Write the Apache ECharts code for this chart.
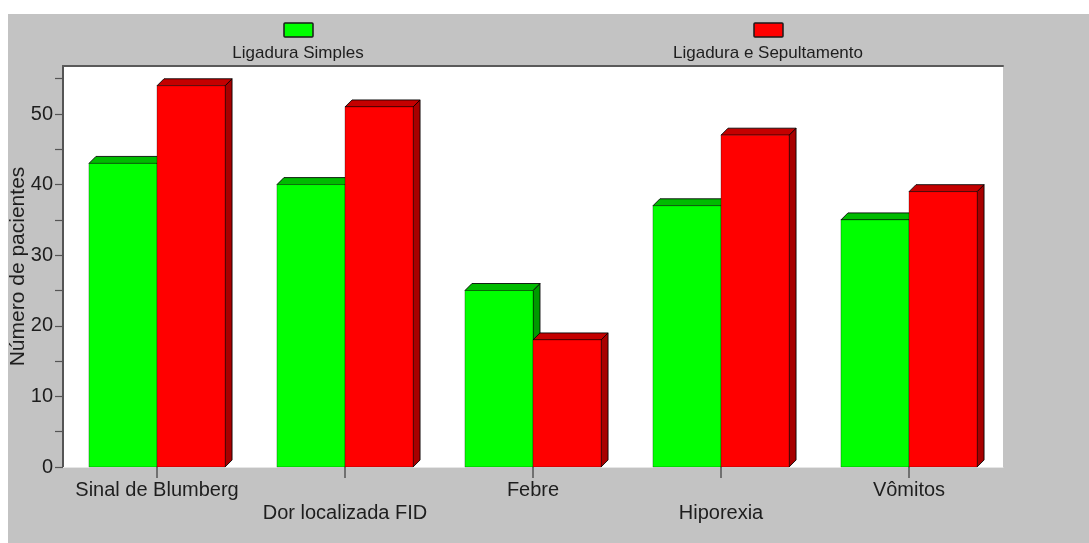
<!DOCTYPE html>
<html>
<head>
<meta charset="utf-8">
<script src="https://cdn.jsdelivr.net/npm/echarts@6/dist/echarts.min.js"></script>
<style>
  html, body { margin: 0; padding: 0; background: #ffffff; }
  #chart { width: 1089px; height: 543px; }
</style>
</head>
<body>
<div id="chart"></div>
<script>
// Symptoms compared between the two surgical techniques
const categories = ['Sinal de Blumberg', 'Dor localizada FID', 'Febre', 'Hiporexia', 'Vômitos'];
const seriesNames = ['Ligadura Simples', 'Ligadura e Sepultamento'];
const ligaduraSimples = [43, 40, 25, 37, 35];
const ligaduraSepultamento = [54, 51, 18, 47, 39];
const yTickLabels = [0, 10, 20, 30, 40, 50];
const yTickMarks = [0, 5, 10, 15, 20, 25, 30, 35, 40, 45, 50, 55];

const FONT = '"Liberation Sans", Arial, sans-serif';
const TEXT = '#1e1e1e';

// palette per series: front, top, side
const palettes = [
  { front: '#00ff00', top: '#00bb00', side: '#009a00' },
  { front: '#ff0000', top: '#c40000', side: '#a80000' }
];

const DEPTH = 7;            // extrusion of the pseudo-3D boxes (px)
const BAR_FRACTION = 0.362; // each bar's share of the category band

function makeRenderer(seriesIdx) {
  const pal = palettes[seriesIdx];
  return function (params, api) {
    const ci = api.value(0);
    const v = api.value(1);
    const top = api.coord([ci, v]);
    const base = api.coord([ci, 0]);
    const band = api.size([1, 0])[0];
    const w = band * BAR_FRACTION;
    const x0 = seriesIdx === 0 ? top[0] - w : top[0];
    const x1 = x0 + w;
    const yt = top[1];
    const yb = base[1];
    const d = DEPTH;
    const edge = 'rgba(0,0,0,0.85)';
    return {
      type: 'group',
      children: [
        {
          type: 'polygon',
          shape: { points: [[x1, yt], [x1 + d, yt - d], [x1 + d, yb - d], [x1, yb]] },
          style: { fill: pal.side, stroke: edge, lineWidth: 1 }
        },
        {
          type: 'polygon',
          shape: { points: [[x0, yt], [x0 + d, yt - d], [x1 + d, yt - d], [x1, yt]] },
          style: { fill: pal.top, stroke: edge, lineWidth: 1 }
        },
        {
          type: 'rect',
          shape: { x: x0, y: yt, width: w, height: yb - yt },
          style: { fill: pal.front, stroke: 'rgba(0,0,0,0.35)', lineWidth: 0.8 }
        }
      ]
    };
  };
}

function toData(values) {
  return values.map(function (v, i) { return [i, v]; });
}

const chart = echarts.init(document.getElementById('chart'), null, { renderer: 'canvas' });

const legendItems = [
  { name: seriesNames[0], color: palettes[0].front, cx: 298 },
  { name: seriesNames[1], color: palettes[1].front, cx: 768 }
];

const graphic = [
  {
    type: 'rect',
    left: 8, top: 14, z: -10,
    shape: { width: 1081, height: 529 },
    style: { fill: '#c3c3c3' }
  }
];
legendItems.forEach(function (it) {
  graphic.push({
    type: 'rect', z: 10,
    shape: { x: it.cx - 14, y: 23, width: 29, height: 14, r: 1 },
    style: { fill: it.color, stroke: '#1a1a1a', lineWidth: 1.5 }
  });
  graphic.push({
    type: 'text', z: 10,
    x: it.cx, y: 53,
    style: {
      text: it.name, fill: TEXT, font: '17px ' + FONT,
      align: 'center', verticalAlign: 'middle'
    }
  });
});

chart.setOption({
  backgroundColor: '#ffffff',
  animation: false,
  graphic: graphic,
  grid: {
    left: 63, right: 86, top: 66, bottom: 76,
    containLabel: false,
    outerBoundsMode: 'none',
    show: true, backgroundColor: '#ffffff', borderWidth: 0
  },
  xAxis: [
    {
      type: 'category',
      data: categories,
      axisLine: { show: true, lineStyle: { color: '#e6e6e6', width: 1 } },
      axisTick: { show: true, alignWithLabel: true, length: 11, lineStyle: { color: '#555', width: 1.5 } },
      axisLabel: {
        interval: 0,
        margin: 12,
        color: TEXT,
        fontFamily: FONT,
        fontSize: 20,
        lineHeight: 23,
        formatter: function (val, idx) { return idx % 2 === 1 ? '\n' + val : val; }
      },
      splitLine: { show: false }
    },
    {
      type: 'category',
      position: 'top',
      data: categories,
      axisLine: { show: true, lineStyle: { color: '#5a5a5a', width: 2 } },
      axisTick: { show: false },
      axisLabel: { show: false }
    }
  ],
  yAxis: {
    type: 'value',
    min: 0,
    max: 56.8,
    interval: 10,
    name: 'Número de pacientes',
    nameLocation: 'middle',
    nameGap: 34,
    nameMoveOverlap: false,
    nameTextStyle: { color: TEXT, fontFamily: FONT, fontSize: 21 },
    axisLine: { show: true, lineStyle: { color: '#555555', width: 2 } },
    axisTick: { show: true, length: 8, customValues: yTickMarks, lineStyle: { color: '#555', width: 1.2 } },
    axisLabel: {
      customValues: yTickLabels,
      margin: 10,
      color: TEXT,
      fontFamily: FONT,
      fontSize: 20
    },
    splitLine: { show: false }
  },
  series: [
    {
      name: seriesNames[0],
      type: 'custom',
      renderItem: makeRenderer(0),
      encode: { x: 0, y: 1 },
      data: toData(ligaduraSimples),
      z: 2
    },
    {
      name: seriesNames[1],
      type: 'custom',
      renderItem: makeRenderer(1),
      encode: { x: 0, y: 1 },
      data: toData(ligaduraSepultamento),
      z: 3
    }
  ]
});
</script>
</body>
</html>
